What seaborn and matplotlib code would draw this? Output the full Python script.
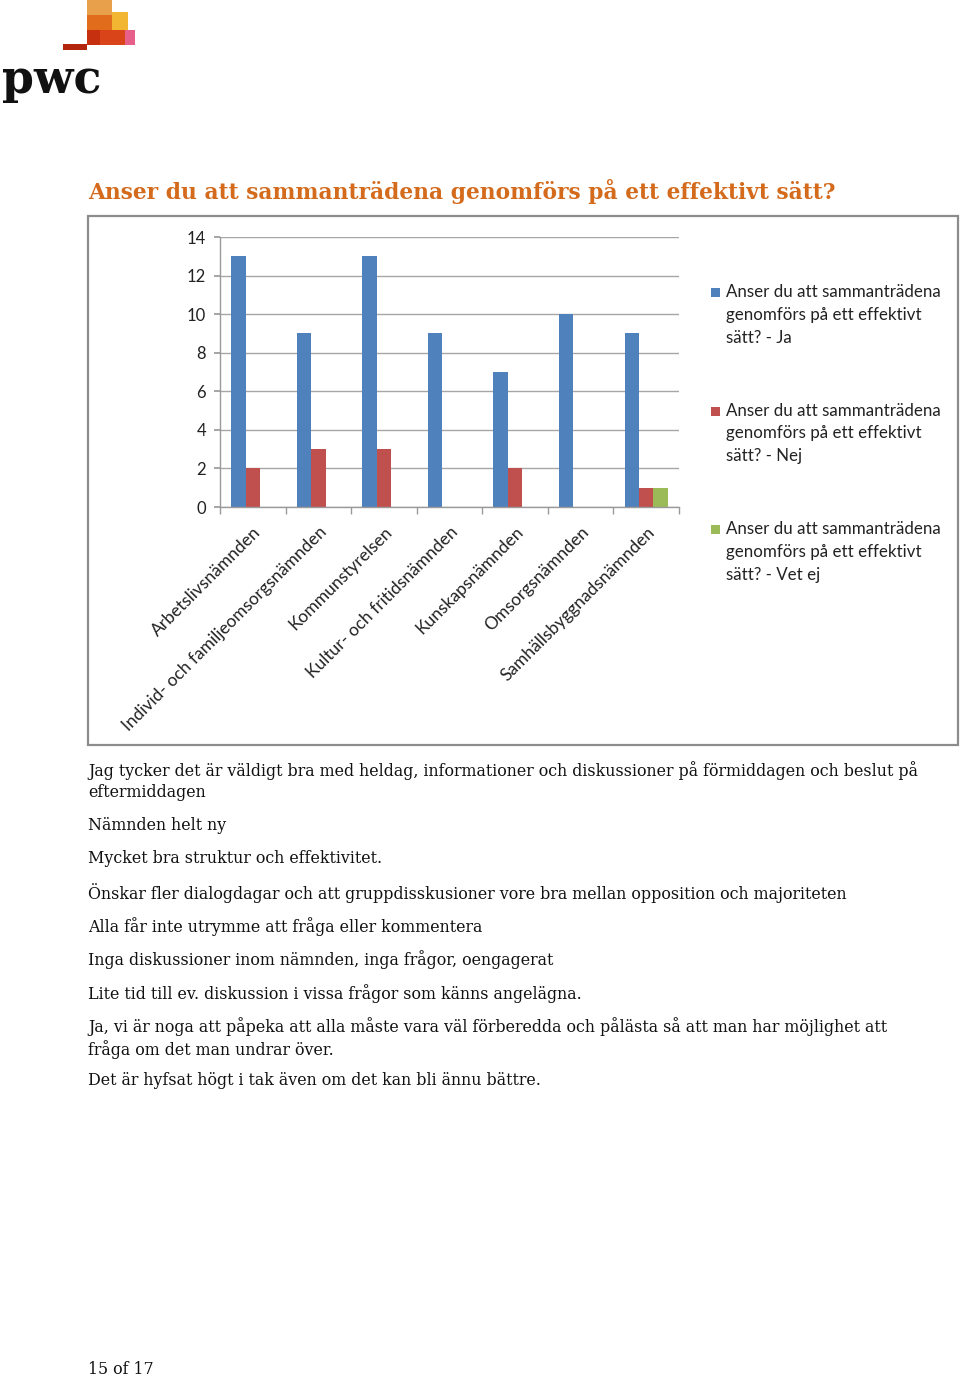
import textwrap
import numpy as np
import pandas as pd
import matplotlib
matplotlib.use("Agg")
import matplotlib.pyplot as plt
from matplotlib.patches import Rectangle
import seaborn as sns

# ---------------- data ----------------
categories = [
    "Arbetslivsnämnden",
    "Individ- och familjeomsorgsnämnden",
    "Kommunstyrelsen",
    "Kultur- och fritidsnämnden",
    "Kunskapsnämnden",
    "Omsorgsnämnden",
    "Samhällsbyggnadsnämnden",
]
ja = [13, 9, 13, 9, 7, 10, 9]
nej = [2, 3, 3, 0, 2, 0, 1]
vet_ej = [0, 0, 0, 0, 0, 0, 1]
series_names = [
    "Anser du att sammanträdena genomförs på ett effektivt sätt? - Ja",
    "Anser du att sammanträdena genomförs på ett effektivt sätt? - Nej",
    "Anser du att sammanträdena genomförs på ett effektivt sätt? - Vet ej",
]
yticks = [0, 2, 4, 6, 8, 10, 12, 14]
title = "Anser du att sammanträdena genomförs på ett effektivt sätt?"
comments = [
    "Jag tycker det är väldigt bra med heldag, informationer och diskussioner på förmiddagen och beslut på\neftermiddagen",
    "Nämnden helt ny",
    "Mycket bra struktur och effektivitet.",
    "Önskar fler dialogdagar och att gruppdisskusioner vore bra mellan opposition och majoriteten",
    "Alla får inte utrymme att fråga eller kommentera",
    "Inga diskussioner inom nämnden, inga frågor, oengagerat",
    "Lite tid till ev. diskussion i vissa frågor som känns angelägna.",
    "Ja, vi är noga att påpeka att alla måste vara väl förberedda och pålästa så att man har möjlighet att\nfråga om det man undrar över.",
    "Det är hyfsat högt i tak även om det kan bli ännu bättre.",
]
page_label = "15 of 17"

colors = ["#4F81BD", "#C0504D", "#9BBB59"]

df = pd.DataFrame({
    "category": categories * 3,
    "value": ja + nej + vet_ej,
    "series": [series_names[0]] * 7 + [series_names[1]] * 7 + [series_names[2]] * 7,
})

# ---------------- figure ----------------
sns.set_theme(style="white")
plt.rcParams["font.family"] = ["Lato", "DejaVu Sans"]

W, H = 960, 1380
fig = plt.figure(figsize=(W / 100, H / 100), dpi=100)
fig.patch.set_facecolor("white")


def fx(px):
    return px / W


def fy(py):
    return 1 - py / H


ax = fig.add_axes([fx(220), fy(507), fx(679) - fx(220), fy(237) - fy(507)])
sns.barplot(data=df, x="category", y="value", hue="series", hue_order=series_names,
            order=categories, palette=colors, width=0.66, gap=0, saturation=1,
            legend=False, ax=ax, errorbar=None)
for p in ax.patches:
    p.set_edgecolor("none")

ax.set_ylim(0, 14)
ax.set_xlim(-0.5, len(categories) - 0.5)
ax.set_yticks(yticks)
ax.set_yticklabels([str(v) for v in yticks], fontsize=12, color="#222222")
ax.set_xlabel("")
ax.set_ylabel("")
ax.yaxis.grid(True, color="#A6A6A6", lw=1)
ax.xaxis.grid(False)
ax.set_axisbelow(True)
for s in ["top", "right"]:
    ax.spines[s].set_visible(False)
for s in ["left", "bottom"]:
    ax.spines[s].set_color("#9A9A9A")
    ax.spines[s].set_linewidth(1)
ax.tick_params(axis="y", length=4, color="#9A9A9A", pad=6, left=True)
ax.set_xticks(range(len(categories)))
ax.set_xticklabels(categories, rotation=45, ha="right", rotation_mode="anchor",
                   fontsize=12.5, color="#222222")
ax.tick_params(axis="x", which="major", length=0, pad=12)
ax.set_xticks(np.arange(-0.5, len(categories), 1.0), minor=True)
ax.tick_params(axis="x", which="minor", length=5, color="#9A9A9A", bottom=True)

# legend (manual, first line aligned to marker)
for i, name in enumerate(series_names):
    y0 = 292 + i * 118.5
    fig.add_artist(Rectangle((fx(711), fy(y0 + 5)), fx(9), 9 / H, transform=fig.transFigure,
                             facecolor=colors[i], edgecolor="none"))
    for k, line in enumerate(textwrap.wrap(name, 26)):
        fig.text(fx(726), fy(y0 + k * 22.8), line, fontsize=12.2, color="#222222",
                 ha="left", va="center")

# chart frame
fig.add_artist(Rectangle((fx(88), fy(745)), fx(958) - fx(88), fy(216) - fy(745),
                         transform=fig.transFigure, fill=False, edgecolor="#8C8C8C", lw=1.6))

# title
fig.text(fx(88), fy(191), title, fontsize=15.7, fontweight="bold", color="#D46A1C",
         family="DejaVu Serif", ha="left", va="center")

# comments
ys = [769, 825, 858, 891, 925, 958, 992, 1025, 1080]
for y, c in zip(ys, comments):
    fig.text(fx(88), fy(y - 8), c, fontsize=11.4, color="#111111", family="DejaVu Serif",
             ha="left", va="top", linespacing=1.3)

fig.text(fx(88), fy(1370), page_label, fontsize=11.4, color="#111111", family="DejaVu Serif",
         ha="left", va="center")

# pwc logo
blocks = [
    (87, 0, 25, 15, "#E9A04A"), (87, 15, 25, 15, "#E06C1C"), (112, 12, 16, 18, "#F2B632"),
    (87, 30, 13, 15, "#C7300F"), (100, 30, 25, 15, "#D94518"), (125, 30, 10, 15, "#E6608A"),
    (63, 44, 24, 6, "#B3260E"),
]
for (x, y, w, h, c) in blocks:
    fig.add_artist(Rectangle((fx(x), fy(y + h)), fx(w), h / H, transform=fig.transFigure,
                             facecolor=c, edgecolor="none"))
fig.text(fx(2), fy(80), "pwc", fontsize=33, fontweight="bold", family="DejaVu Serif",
         color="#111111", ha="left", va="center")

fig.savefig("out.png", dpi=100, facecolor="white")
